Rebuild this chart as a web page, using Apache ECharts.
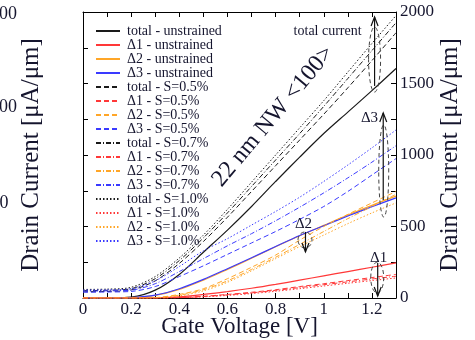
<!DOCTYPE html>
<html><head><meta charset="utf-8">
<script src="https://cdn.jsdelivr.net/npm/echarts@6/dist/echarts.min.js"></script>
<style>html,body{margin:0;padding:0;background:#fff}#c{width:475px;height:340px}</style>
</head><body><div id="c"></div>
<script>
// ---------------- data ----------------
const volts = [0, 0.1, 0.2, 0.3, 0.4, 0.5, 0.6, 0.7, 0.8, 0.9, 1.0, 1.1, 1.2, 1.3];
const xTickLabels = ['0', '0.2', '0.4', '0.6', '0.8', '1', '1.2'];
const yTickLabels = ['0', '500', '1000', '1500', '2000'];

const totalUnstrained = [0, 0, 6, 55, 165, 320, 475, 640, 815, 985, 1150, 1300, 1450, 1605];
const d1Unstrained    = [0, 0, 0, 1, 8, 25, 45, 68, 95, 125, 155, 185, 215, 245];
const d2Unstrained    = [0, 0, 2, 18, 60, 125, 200, 278, 358, 435, 508, 580, 648, 712];
const d3Unstrained    = [0, 0, 3, 20, 65, 130, 205, 282, 360, 437, 505, 573, 638, 700];
const totalS05 = [44, 46, 56, 120, 242, 395, 565, 745, 925, 1105, 1285, 1470, 1660, 1855];
const d1S05    = [0, 0, 0, 0, 3, 12, 25, 40, 58, 80, 100, 122, 143, 165];
const d2S05    = [0, 0, 0, 3, 25, 65, 135, 215, 300, 405, 500, 585, 665, 745];
const d3S05    = [40, 42, 46, 80, 150, 225, 305, 385, 465, 550, 640, 745, 860, 975];
const totalS07 = [52, 54, 65, 135, 262, 420, 595, 780, 965, 1150, 1340, 1535, 1730, 1925];
const d1S07    = [0, 0, 0, 0, 2, 10, 22, 36, 53, 73, 93, 113, 133, 152];
const d2S07    = [0, 0, 0, 2, 20, 58, 120, 200, 285, 375, 465, 555, 640, 725];
const d3S07    = [48, 50, 55, 100, 185, 275, 365, 450, 540, 635, 735, 840, 950, 1065];
const totalS10 = [60, 62, 75, 150, 280, 440, 620, 810, 1000, 1190, 1380, 1580, 1780, 1975];
const d1S10    = [0, 0, 0, 0, 2, 8, 18, 31, 47, 65, 84, 103, 122, 140];
const d2S10    = [0, 0, 0, 1, 15, 50, 110, 190, 275, 360, 440, 520, 595, 665];
const d3S10    = [55, 57, 65, 120, 220, 330, 415, 510, 605, 705, 815, 930, 1050, 1175];

const seriesNames = [
  'total - unstrained', 'Δ1 - unstrained', 'Δ2 - unstrained', 'Δ3 - unstrained',
  'total - S=0.5%', 'Δ1 - S=0.5%', 'Δ2 - S=0.5%', 'Δ3 - S=0.5%',
  'total - S=0.7%', 'Δ1 - S=0.7%', 'Δ2 - S=0.7%', 'Δ3 - S=0.7%',
  'total - S=1.0%', 'Δ1 - S=1.0%', 'Δ2 - S=1.0%', 'Δ3 - S=1.0%'
];
const seriesValues = [
  totalUnstrained, d1Unstrained, d2Unstrained, d3Unstrained,
  totalS05, d1S05, d2S05, d3S05,
  totalS07, d1S07, d2S07, d3S07,
  totalS10, d1S10, d2S10, d3S10
];

// annotations (data units)
const arrowV    = [1.211, 1.247, 0.924, 1.224];
const arrowFrom = [1483, 685, 462, 245];
const arrowTo   = [1965, 1294, 322, 14];
const ellipseV  = [1.211, 1.249, 0.922, 1.222];
const ellipseLo = [1440, 566, 350, 35];
const ellipseHi = [1895, 1210, 462, 250];
const noteTexts = ['total current', 'Δ3', 'Δ2', 'Δ1'];
const noteV     = [1.016, 1.19, 0.916, 1.228];
const noteI     = [1867, 1259, 517, 280];

// ---------------- styles ----------------
const FONT = '"Liberation Serif", "Times New Roman", serif';
const TXT = '#15152e';
const colors = ['#1a1a1a', '#ff3838', '#ffa628', '#3a3aff'];
const dashes = ['solid', [5, 3], [5, 2, 1, 2], [1.5, 2]];

const series = seriesNames.map((name, i) => ({
  name: name,
  type: 'line',
  data: volts.map((v, k) => [v, seriesValues[i][k]]),
  symbol: 'none',
  showSymbol: false,
  smooth: 0.3,
  lineStyle: { color: colors[i % 4], width: i < 4 ? 1.2 : 1, type: dashes[Math.floor(i / 4)] },
  itemStyle: { color: colors[i % 4] },
  emphasis: { disabled: true },
  z: 2
}));

const axisCommonY = {
  type: 'value', min: 0, max: 2000, interval: 250,
  axisLine: { show: true, onZero: false, lineStyle: { color: '#000', width: 1 } },
  axisTick: { show: true, inside: true, length: 5, lineStyle: { color: '#000' } },
  splitLine: { show: false }
};
const axisCommonX = {
  type: 'value', min: 0, max: 1.3, interval: 0.1,
  axisLine: { show: true, onZero: false, lineStyle: { color: '#000', width: 1 } },
  axisTick: { show: true, inside: true, length: 5, lineStyle: { color: '#000' } },
  splitLine: { show: false }
};

const option = {
  animation: false,
  backgroundColor: '#fff',
  grid: { left: 83, top: 12, width: 313, height: 286, containLabel: false, outerBoundsMode: 'none' },
  legend: {
    orient: 'vertical', left: 95, top: 24, padding: 0,
    itemWidth: 24, itemHeight: 8, itemGap: 0,
    selectedMode: false,
    itemStyle: { opacity: 0, borderWidth: 0 },
    textStyle: { fontFamily: FONT, fontSize: 14, lineHeight: 13.2, color: TXT, padding: [0, 0, 0, 2] },
    data: seriesNames
  },
  xAxis: [
    Object.assign({}, axisCommonX, {
      position: 'bottom',
      axisLabel: {
        fontFamily: FONT, fontSize: 17, color: TXT, margin: 3,
        formatter: v => { const k = Math.round(v * 10); return k % 2 ? '' : (xTickLabels[k / 2] || ''); }
      },
      name: 'Gate Voltage [V]', nameLocation: 'middle', nameGap: 17, nameMoveOverlap: false,
      nameTextStyle: { fontFamily: FONT, fontSize: 23, color: TXT }
    }),
    Object.assign({}, axisCommonX, { position: 'top', axisLabel: { show: false } })
  ],
  yAxis: [
    Object.assign({}, axisCommonY, {
      position: 'right',
      axisLabel: {
        fontFamily: FONT, fontSize: 17, color: TXT, margin: 4,
        formatter: v => (v % 500 === 0 ? yTickLabels[v / 500] : '')
      },
      name: 'Drain Current [μA/μm]', nameLocation: 'middle', nameGap: 42, nameMoveOverlap: false,
      nameTextStyle: { fontFamily: FONT, fontSize: 25, color: TXT }
    }),
    Object.assign({}, axisCommonY, { position: 'left', axisLabel: { show: false } })
  ],
  series: series
};

const chart = echarts.init(document.getElementById('c'), null, { renderer: 'canvas' });
chart.setOption(option);

function P(v, i) { return chart.convertToPixel({ xAxisIndex: 0, yAxisIndex: 0 }, [v, i]); }

const g = [];
const ellipseHalfW = [6, 5, 7, 6.5];
ellipseV.forEach((v, k) => {
  const a = P(v, ellipseLo[k]), b = P(v, ellipseHi[k]);
  g.push({ type: 'ellipse', z: 10, shape: { cx: a[0], cy: (a[1] + b[1]) / 2, rx: ellipseHalfW[k], ry: Math.abs(a[1] - b[1]) / 2 },
    style: { fill: 'none', stroke: '#444', lineWidth: 1, lineDash: [4, 3] } });
});
arrowV.forEach((v, k) => {
  const a = P(v, arrowFrom[k]), b = P(v, arrowTo[k]);
  const dir = b[1] < a[1] ? 1 : -1;
  g.push({ type: 'line', z: 11, shape: { x1: a[0], y1: a[1], x2: b[0], y2: b[1] }, style: { stroke: '#111', lineWidth: 1.2 } });
  g.push({ type: 'polyline', z: 11, shape: { points: [[b[0] - 3.5, b[1] + dir * 9], [b[0], b[1]], [b[0] + 3.5, b[1] + dir * 9]] },
    style: { stroke: '#111', lineWidth: 1.2, fill: 'none' } });
});
noteTexts.forEach((t, k) => {
  const p = P(noteV[k], noteI[k]);
  g.push({ type: 'text', z: 12, x: p[0], y: p[1],
    style: { text: t, fontFamily: FONT, fontSize: k === 0 ? 14 : 15, fill: TXT, align: 'center', verticalAlign: 'middle' } });
});
const lp = P(0.79, 1270);
g.push({ type: 'text', z: 12, x: lp[0], y: lp[1], rotation: 50 * Math.PI / 180,
  style: { text: '22 nm NW <100>', fontFamily: FONT, fontSize: 24, fill: TXT, align: 'center', verticalAlign: 'middle' } });
g.push({ type: 'text', z: 12, x: 17, y: 14, style: { text: '00', fontFamily: FONT, fontSize: 18, fill: TXT, align: 'right', verticalAlign: 'middle' } });
g.push({ type: 'text', z: 12, x: 17, y: 107, style: { text: '00', fontFamily: FONT, fontSize: 18, fill: TXT, align: 'right', verticalAlign: 'middle' } });
g.push({ type: 'text', z: 12, x: 8.5, y: 203, style: { text: '0', fontFamily: FONT, fontSize: 18, fill: TXT, align: 'right', verticalAlign: 'middle' } });
g.push({ type: 'text', z: 12, x: 31, y: 155, rotation: Math.PI / 2,
  style: { text: 'Drain Current [μA/μm]', fontFamily: FONT, fontSize: 25, fill: TXT, align: 'center', verticalAlign: 'middle' } });

chart.setOption({ graphic: g });
</script></body></html>
